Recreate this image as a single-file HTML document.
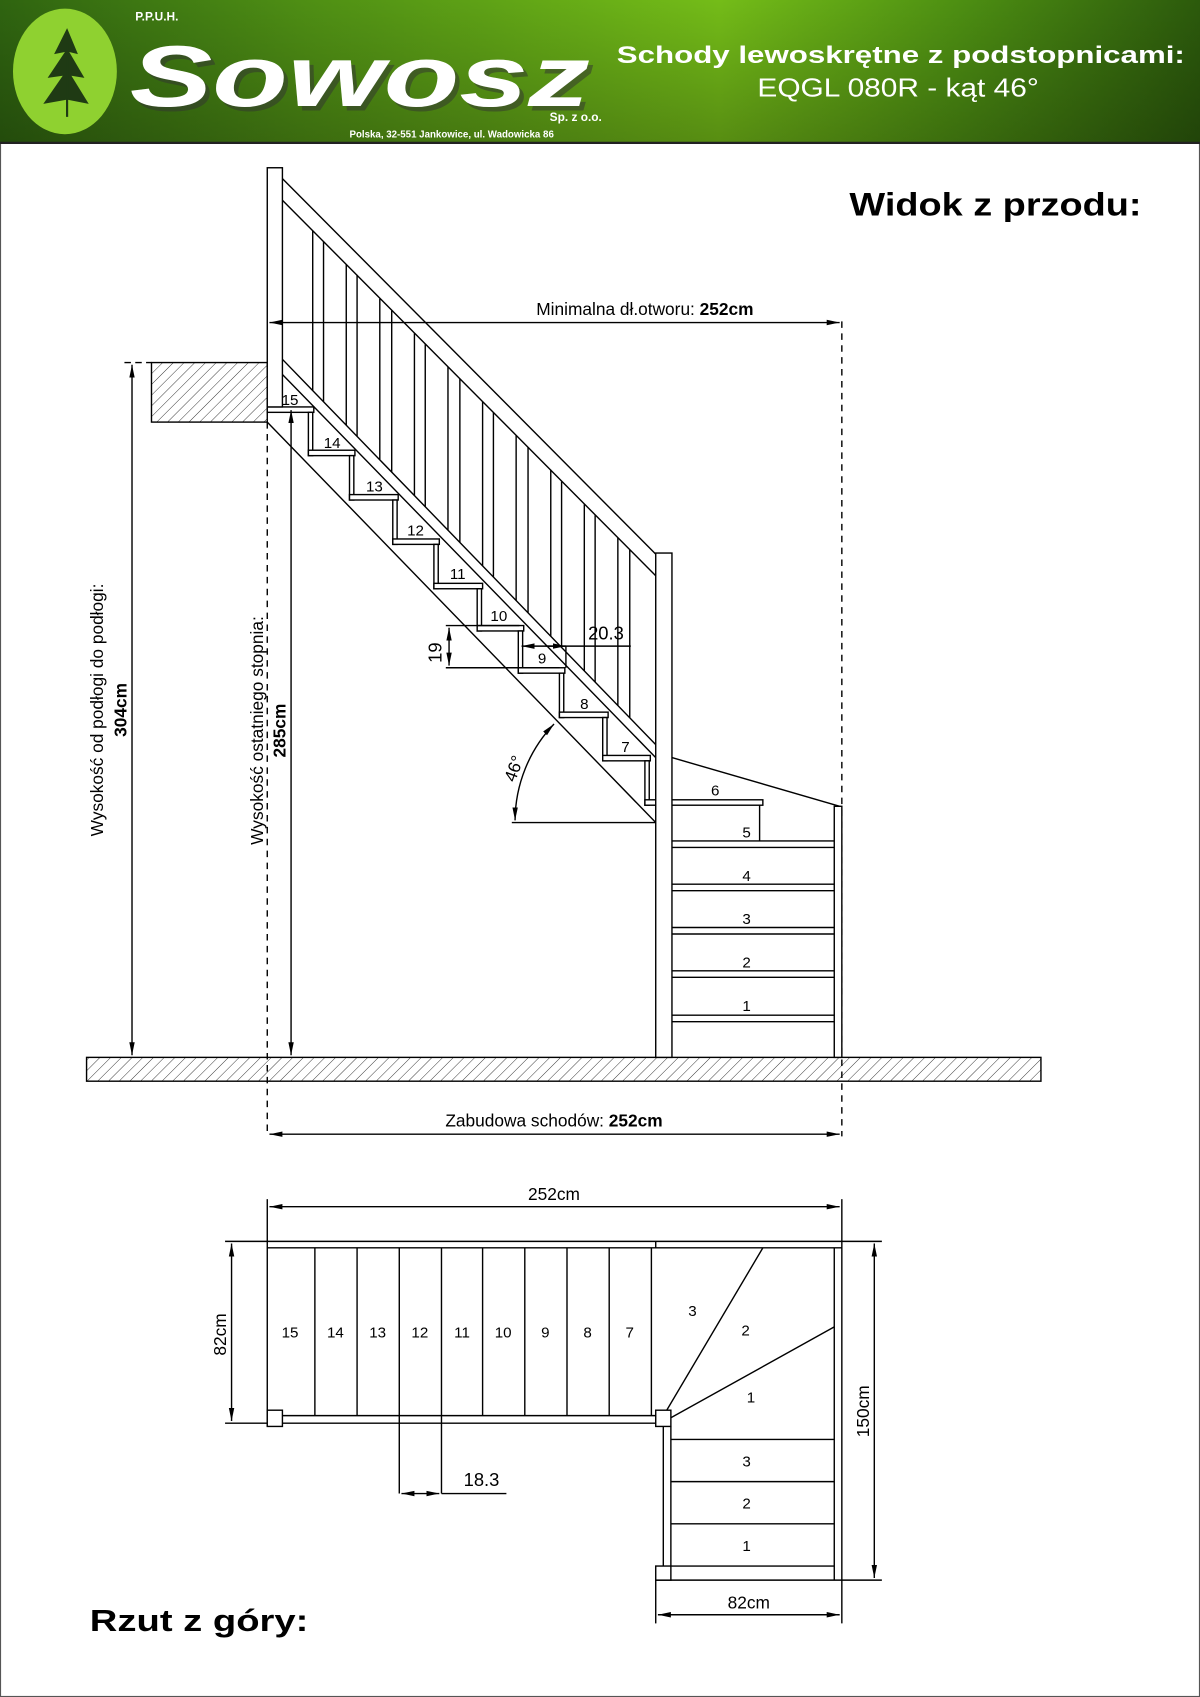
<!DOCTYPE html>
<html><head><meta charset="utf-8"><style>
html,body{margin:0;padding:0;background:#fff}
svg{display:block}
text{font-family:"Liberation Sans",Arial,sans-serif}
</style></head><body>
<svg width="1200" height="1697" viewBox="0 0 1109 1568" preserveAspectRatio="none" xmlns="http://www.w3.org/2000/svg">
<defs>
<linearGradient id="g" x1="0" x2="1" y1="0" y2="0">
<stop offset="0" stop-color="#2f6410"/><stop offset="0.25" stop-color="#4e8e14"/><stop offset="0.6" stop-color="#74bc18"/><stop offset="0.8" stop-color="#4d8f12"/><stop offset="1" stop-color="#2c5a0c"/>
</linearGradient>
<linearGradient id="gv" x1="0" x2="0" y1="0" y2="1"><stop offset="0" stop-color="#000" stop-opacity="0"/><stop offset="1" stop-color="#000" stop-opacity="0.25"/></linearGradient>
<pattern id="h" width="7" height="7" patternUnits="userSpaceOnUse" patternTransform="rotate(45)"><line x1="0" y1="0" x2="0" y2="7" stroke="#000" stroke-width="0.7"/></pattern>
<marker id="a" markerWidth="12" markerHeight="8" refX="12" refY="4" orient="auto" markerUnits="userSpaceOnUse"><path d="M0,1.5 L12,4 L0,6.5 Z" fill="#000"/></marker>
<marker id="b" markerWidth="12" markerHeight="8" refX="0" refY="4" orient="auto" markerUnits="userSpaceOnUse"><path d="M12,1.5 L0,4 L12,6.5 Z" fill="#000"/></marker>
</defs>
<rect x="0.5" y="0.5" width="1108" height="1567" fill="#fff" stroke="#555" stroke-width="1"/>
<!-- header -->
<rect x="0" y="0" width="1109" height="133" fill="url(#g)"/>
<rect x="0" y="0" width="1109" height="133" fill="url(#gv)"/>
<line x1="0" y1="132" x2="1109" y2="132" stroke="#222" stroke-width="2"/>
<ellipse cx="60" cy="66" rx="48" ry="58" fill="#8fd130"/>
<path d="M62,26 L50,50 L60,48 L44,72 L58,70 L40,96 L62,92 L82,96 L66,70 L78,72 L64,48 L72,50 Z" fill="#1f3a14"/>
<line x1="62" y1="40" x2="62" y2="108" stroke="#1f3a14" stroke-width="2"/>
<text x="125" y="19" font-size="11" font-weight="bold" fill="#fff">P.P.U.H.</text>
<text x="124" y="102" font-size="80" font-weight="bold" font-style="italic" fill="#333" opacity="0.5" font-family="Liberation Serif,serif" textLength="425" lengthAdjust="spacingAndGlyphs">Sowosz</text>
<text x="120" y="98" font-size="80" font-weight="bold" font-style="italic" fill="#fff" font-family="Liberation Serif,serif" textLength="425" lengthAdjust="spacingAndGlyphs">Sowosz</text>
<text x="508" y="112" font-size="11" font-weight="bold" fill="#fff">Sp. z o.o.</text>
<text x="323" y="127" font-size="9" font-weight="bold" fill="#fff">Polska, 32-551 Jankowice, ul. Wadowicka 86</text>
<text x="570" y="58" font-size="22" font-weight="bold" fill="#fff" textLength="525" lengthAdjust="spacingAndGlyphs">Schody lewoskrętne z podstopnicami:</text>
<text x="700" y="89" font-size="24" fill="#fff" textLength="260" lengthAdjust="spacingAndGlyphs">EQGL 080R - kąt 46°</text>

<text x="785" y="199" font-size="30" font-weight="bold" textLength="270" lengthAdjust="spacingAndGlyphs">Widok z przodu:</text>
<text x="83" y="1507" font-size="28" font-weight="bold" textLength="202" lengthAdjust="spacingAndGlyphs">Rzut z góry:</text>

<g stroke="#000" stroke-width="1.3" fill="none">
<rect x="80" y="977" width="882" height="22" fill="url(#h)"/>
<rect x="140" y="335" width="107" height="55" fill="url(#h)"/>
<line x1="115" y1="335" x2="140" y2="335" stroke-dasharray="6,4"/>
<line x1="247" y1="390" x2="247" y2="1050" stroke-dasharray="6,5"/>
<line x1="778" y1="297" x2="778" y2="1050" stroke-dasharray="6,5"/>
<line x1="261" y1="165" x2="606" y2="512"/>
<line x1="261" y1="185" x2="606" y2="532"/>
<path d="M289,213V361M299,223V371M320,244V393M330,254V403M351,276V425M362,287V436M383,308V458M393,318V468M414,339V490M425,350V501M446,371V523M456,381V533M477,402V555M488,413V566M509,434V588M519,445V598M540,466V620M550,476V630M571,497V652M582,508V663"/>
<line x1="261" y1="332" x2="606" y2="688"/>
<line x1="261" y1="346" x2="606" y2="700"/>
<line x1="247" y1="390" x2="606" y2="760"/>
<g fill="#fff">
<rect x="247" y="376" width="43" height="5"/><rect x="285" y="381" width="4" height="40"/>
<rect x="285" y="416" width="43" height="5"/><rect x="323" y="421" width="4" height="41"/>
<rect x="323" y="457" width="45" height="5"/><rect x="363" y="462" width="4" height="41"/>
<rect x="363" y="498" width="43" height="5"/><rect x="401" y="503" width="4" height="41"/>
<rect x="401" y="539" width="45" height="5"/><rect x="441" y="544" width="4" height="39"/>
<rect x="441" y="578" width="43" height="5"/><rect x="479" y="583" width="4" height="39"/>
<rect x="479" y="617" width="43" height="5"/><rect x="517" y="622" width="4" height="41"/>
<rect x="517" y="658" width="45" height="5"/><rect x="557" y="663" width="4" height="40"/>
<rect x="557" y="698" width="44" height="5"/><rect x="596" y="703" width="4" height="41"/>
<rect x="596" y="739" width="109" height="5"/>
<rect x="247" y="155" width="14" height="221"/>
<rect x="606" y="511" width="15" height="466"/>
<rect x="771" y="745" width="7" height="232"/>
</g>
<line x1="621" y1="700" x2="776" y2="745"/>
<line x1="702" y1="744" x2="702" y2="777"/>
<path d="M621,777H771M621,783H771M621,817H771M621,823H771M621,857H771M621,863H771M621,897H771M621,903H771M621,938H771M621,944H771"/>
<line x1="249" y1="298" x2="776" y2="298" marker-start="url(#b)" marker-end="url(#a)"/>
<line x1="249" y1="1048" x2="776" y2="1048" marker-start="url(#b)" marker-end="url(#a)"/>
<line x1="122" y1="337" x2="122" y2="975" marker-start="url(#b)" marker-end="url(#a)"/>
<line x1="269" y1="379" x2="269" y2="975" marker-start="url(#b)" marker-end="url(#a)"/>
<line x1="412" y1="578" x2="480" y2="578"/>
<line x1="412" y1="617" x2="517" y2="617"/>
<line x1="415" y1="580" x2="415" y2="615" marker-start="url(#b)" marker-end="url(#a)"/>
<line x1="482" y1="597" x2="583" y2="597" marker-start="url(#b)"/>
<line x1="505" y1="597" x2="523" y2="597" marker-end="url(#a)"/>
<line x1="523" y1="597" x2="523" y2="617"/>
<line x1="473" y1="760" x2="606" y2="760"/>
<path d="M476,758 A130,130 0 0 1 512,669" marker-start="url(#b)" marker-end="url(#a)"/>

<line x1="249" y1="1115" x2="776" y2="1115" marker-start="url(#b)" marker-end="url(#a)"/>
<line x1="247" y1="1108" x2="247" y2="1147"/>
<line x1="778" y1="1108" x2="778" y2="1147"/>
<line x1="208" y1="1147" x2="815" y2="1147"/>
<line x1="247" y1="1153" x2="778" y2="1153"/>
<line x1="606" y1="1147" x2="606" y2="1153"/>
<line x1="247" y1="1147" x2="247" y2="1318"/>
<path d="M291,1153V1308M330,1153V1308M369,1153V1380M408,1153V1380M446,1153V1308M485,1153V1308M524,1153V1308M563,1153V1308M602,1153V1308"/>
<line x1="261" y1="1308" x2="606" y2="1308"/>
<line x1="208" y1="1315" x2="606" y2="1315"/>
<line x1="214" y1="1149" x2="214" y2="1313" marker-start="url(#b)" marker-end="url(#a)"/>
<line x1="615" y1="1305" x2="705" y2="1153"/>
<line x1="620" y1="1310" x2="771" y2="1226"/>
<line x1="771" y1="1153" x2="771" y2="1460"/>
<line x1="778" y1="1147" x2="778" y2="1500"/>
<line x1="778" y1="1460" x2="815" y2="1460"/>
<line x1="808" y1="1149" x2="808" y2="1458" marker-start="url(#b)" marker-end="url(#a)"/>
<line x1="613" y1="1318" x2="613" y2="1447"/>
<line x1="620" y1="1318" x2="620" y2="1447"/>
<path d="M620,1330H771M620,1369H771M620,1408H771M620,1447H771"/>
<line x1="606" y1="1460" x2="778" y2="1460"/>
<line x1="606" y1="1460" x2="606" y2="1500"/>
<line x1="608" y1="1492" x2="776" y2="1492" marker-start="url(#b)" marker-end="url(#a)"/>
<line x1="371" y1="1380" x2="406" y2="1380" marker-start="url(#b)" marker-end="url(#a)"/>
<line x1="408" y1="1380" x2="468" y2="1380"/>
<g fill="#fff">
<rect x="247" y="1303" width="14" height="15"/>
<rect x="606" y="1303" width="14" height="15"/>
<rect x="606" y="1447" width="14" height="13"/>
</g>
</g>

<g font-size="14" text-anchor="middle">
<text x="268" y="374">15</text><text x="307" y="414">14</text><text x="346" y="454">13</text><text x="384" y="495">12</text><text x="423" y="535">11</text><text x="461" y="574">10</text><text x="501" y="613">9</text><text x="540" y="655">8</text><text x="578" y="695">7</text><text x="661" y="735">6</text>
<text x="690" y="774">5</text><text x="690" y="814">4</text><text x="690" y="854">3</text><text x="690" y="894">2</text><text x="690" y="934">1</text>
<text x="268" y="1236">15</text><text x="310" y="1236">14</text><text x="349" y="1236">13</text><text x="388" y="1236">12</text><text x="427" y="1236">11</text><text x="465" y="1236">10</text><text x="504" y="1236">9</text><text x="543" y="1236">8</text><text x="582" y="1236">7</text>
<text x="640" y="1216">3</text><text x="689" y="1234">2</text><text x="694" y="1296">1</text>
<text x="690" y="1355">3</text><text x="690" y="1394">2</text><text x="690" y="1433">1</text>
</g>
<text x="560" y="591" font-size="17" text-anchor="middle">20.3</text>
<text x="408" y="603" font-size="17" text-anchor="middle" transform="rotate(-90 408 603)">19</text>
<text x="480" y="712" font-size="16" text-anchor="middle" transform="rotate(-70 480 712)">46°</text>
<text x="596" y="291" font-size="16" text-anchor="middle">Minimalna dł.otworu: <tspan font-weight="bold">252cm</tspan></text>
<text x="512" y="1041" font-size="16" text-anchor="middle">Zabudowa schodów: <tspan font-weight="bold">252cm</tspan></text>
<text x="95" y="656" font-size="16" text-anchor="middle" transform="rotate(-90 95 656)">Wysokość od podłogi do podłogi:</text>
<text x="117" y="656" font-size="16" font-weight="bold" text-anchor="middle" transform="rotate(-90 117 656)">304cm</text>
<text x="243" y="675" font-size="16" text-anchor="middle" transform="rotate(-90 243 675)">Wysokość ostatniego stopnia:</text>
<text x="264" y="675" font-size="16" font-weight="bold" text-anchor="middle" transform="rotate(-90 264 675)">285cm</text>
<text x="512" y="1109" font-size="16" text-anchor="middle">252cm</text>
<text x="209" y="1233" font-size="16" text-anchor="middle" transform="rotate(-90 209 1233)">82cm</text>
<text x="803" y="1304" font-size="16" text-anchor="middle" transform="rotate(-90 803 1304)">150cm</text>
<text x="692" y="1486" font-size="16" text-anchor="middle">82cm</text>
<text x="445" y="1373" font-size="17" text-anchor="middle">18.3</text>
</svg>
</body></html>
